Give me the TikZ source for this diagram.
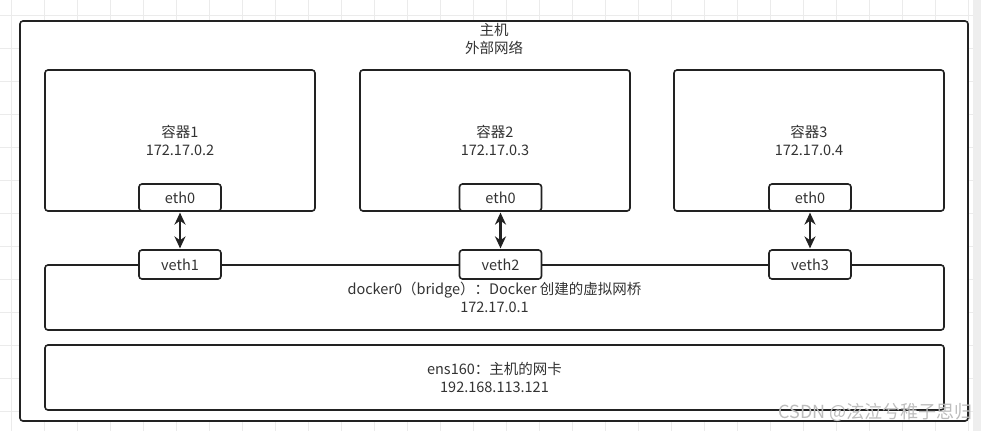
\documentclass[tikz,border=0pt]{standalone}
\usepackage{fontspec}
\setmainfont{Noto Sans CJK SC}
\usetikzlibrary{arrows.meta}
\definecolor{ln}{HTML}{222222}
\definecolor{tx}{HTML}{333333}
\definecolor{gridc}{HTML}{EBEBEB}
\definecolor{stripc}{HTML}{EEEEEE}
\definecolor{wmark}{HTML}{BDBDBD}
\begin{document}
\begin{tikzpicture}[x=1pt,y=-1pt,
  box/.style={draw=ln, line width=1.6pt, rounded corners=3pt, fill=white, inner sep=0pt},
  lbl/.style={text=tx, font=\fontsize{14.5}{18}\selectfont, align=center},
  port/.style={box, lbl, minimum width=82pt},
  arr/.style={draw=ln, line width=2.4pt, {Stealth[length=12pt,width=11pt]}-{Stealth[length=12pt,width=11pt]}, shorten >=0.8pt, shorten <=0.8pt}]
\useasboundingbox (0,0) rectangle (981,431);
\fill[white] (0,0) rectangle (981,431);
\foreach \x in {11,44,...,970} \draw[gridc, line width=0.8pt] (\x,0) -- (\x,431);
\foreach \y in {15,48,...,431} \draw[gridc, line width=0.8pt] (0,\y) -- (973,\y);
\fill[stripc] (973,0) rectangle (981,431);
% host
\node[box, minimum width=948pt, minimum height=400pt] (host) at (494,221) {};
\node[lbl] (hostlbl) at (494,39) {主机\\外部网络};
% containers
\node[box, lbl, minimum width=270pt, minimum height=141pt] (c1) at (180,140.5) {容器1\\172.17.0.2};
\node[box, lbl, minimum width=270pt, minimum height=141pt] (c2) at (495,140.5) {容器2\\172.17.0.3};
\node[box, lbl, minimum width=270pt, minimum height=141pt] (c3) at (809,140.5) {容器3\\172.17.0.4};
\node[port, minimum height=27pt] (e1) at (180,197.5) {eth0};
\node[port, minimum height=27pt] (e2) at (500.5,197.5) {eth0};
\node[port, minimum height=27pt] (e3) at (810,197.5) {eth0};
% bridge and nic
\node[box, lbl, minimum width=899pt, minimum height=65pt] (br) at (494.5,297.5) {docker0（bridge）：Docker 创建的虚拟网桥\\172.17.0.1};
\node[box, lbl, minimum width=899pt, minimum height=65pt] (nic) at (494.5,377.5) {ens160：主机的网卡\\192.168.113.121};
\node[port, minimum height=29pt] (v1) at (180,264.5) {veth1};
\node[port, minimum height=29pt] (v2) at (500.5,264.5) {veth2};
\node[port, minimum height=29pt] (v3) at (810,264.5) {veth3};
% links
\draw[arr] (e1.south) -- (v1.north);
\draw[arr] (e2.south) -- (v2.north);
\draw[arr] (e3.south) -- (v3.north);
% watermark
\node[text=wmark, font=\fontsize{18}{18}\selectfont, anchor=east] (wm) at (976,412) {CSDN @泫泣兮稚子思归};
\end{tikzpicture}
\end{document}
